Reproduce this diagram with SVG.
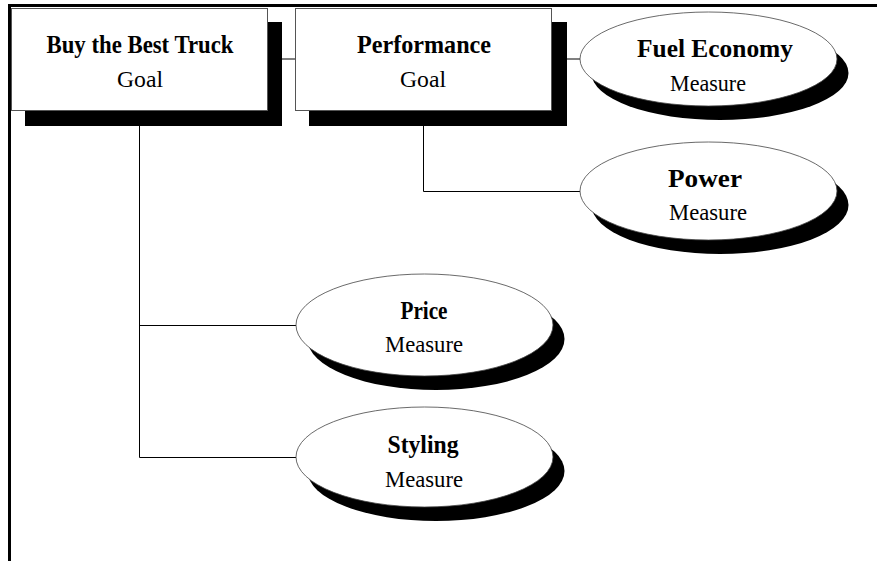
<svg xmlns="http://www.w3.org/2000/svg" width="877" height="561" viewBox="0 0 877 561">
<style>
.bg{fill:#fff}
.frame{fill:none;stroke:#000;stroke-width:3}
.conn{fill:none;stroke:#000;stroke-width:1}
.box{fill:#fff;stroke:#555;stroke-width:1}
.ell{fill:#fff;stroke:#444;stroke-width:0.8}
.shadow{fill:#000}
.title{font-family:"Liberation Serif",serif;font-weight:bold;font-size:26px;text-anchor:middle;fill:#000}
.sub{font-family:"Liberation Serif",serif;font-size:24px;text-anchor:middle;fill:#000}
.meas{font-family:"Liberation Serif",serif;font-size:23px;text-anchor:middle;fill:#000}
</style>
<rect class="bg" x="0" y="0" width="877" height="561"/>
<path class="frame" d="M9.5 561 V5.5 H877"/>
<g id="connectors">
<path class="conn" d="M268 59 H295"/>
<path class="conn" d="M552 59 H580"/>
<path class="conn" d="M423.5 126 V191.5 H580"/>
<path class="conn" d="M139.5 126 V457.5 H296"/>
<path class="conn" d="M139.5 325.5 H296"/>
</g>
<g id="goal-buy">
<rect class="shadow" x="25" y="22" width="257" height="104"/>
<rect class="box" x="11.5" y="8.5" width="256" height="102"/>
<text class="title" x="140" y="53" textLength="187" lengthAdjust="spacingAndGlyphs">Buy the Best Truck</text>
<text class="sub" x="140" y="87" textLength="46" lengthAdjust="spacingAndGlyphs">Goal</text>
</g>
<g id="goal-performance">
<rect class="shadow" x="309" y="22" width="258" height="104"/>
<rect class="box" x="295.5" y="8.5" width="256" height="102"/>
<text class="title" x="424" y="53" textLength="134" lengthAdjust="spacingAndGlyphs">Performance</text>
<text class="sub" x="423" y="87" textLength="46" lengthAdjust="spacingAndGlyphs">Goal</text>
</g>
<g id="measure-fuel">
<ellipse class="shadow" cx="720" cy="73" rx="128.5" ry="47"/>
<ellipse class="ell" cx="708.5" cy="59" rx="128.5" ry="47"/>
<text class="title" x="715" y="57" textLength="156" lengthAdjust="spacingAndGlyphs">Fuel Economy</text>
<text class="meas" x="708" y="91" textLength="76" lengthAdjust="spacingAndGlyphs">Measure</text>
</g>
<g id="measure-power">
<ellipse class="shadow" cx="720" cy="205" rx="128.5" ry="49"/>
<ellipse class="ell" cx="708.5" cy="191" rx="128.5" ry="49"/>
<text class="title" x="705" y="187" textLength="74" lengthAdjust="spacingAndGlyphs">Power</text>
<text class="meas" x="708" y="220" textLength="78" lengthAdjust="spacingAndGlyphs">Measure</text>
</g>
<g id="measure-price">
<ellipse class="shadow" cx="436" cy="339" rx="128.5" ry="51"/>
<ellipse class="ell" cx="424.5" cy="325" rx="128.5" ry="51"/>
<text class="title" x="424" y="319" textLength="47" lengthAdjust="spacingAndGlyphs">Price</text>
<text class="meas" x="424" y="352" textLength="78" lengthAdjust="spacingAndGlyphs">Measure</text>
</g>
<g id="measure-styling">
<ellipse class="shadow" cx="436" cy="471" rx="128.5" ry="50"/>
<ellipse class="ell" cx="424.5" cy="457" rx="128.5" ry="50"/>
<text class="title" x="423" y="453" textLength="71" lengthAdjust="spacingAndGlyphs">Styling</text>
<text class="meas" x="424" y="487" textLength="78" lengthAdjust="spacingAndGlyphs">Measure</text>
</g>
</svg>
